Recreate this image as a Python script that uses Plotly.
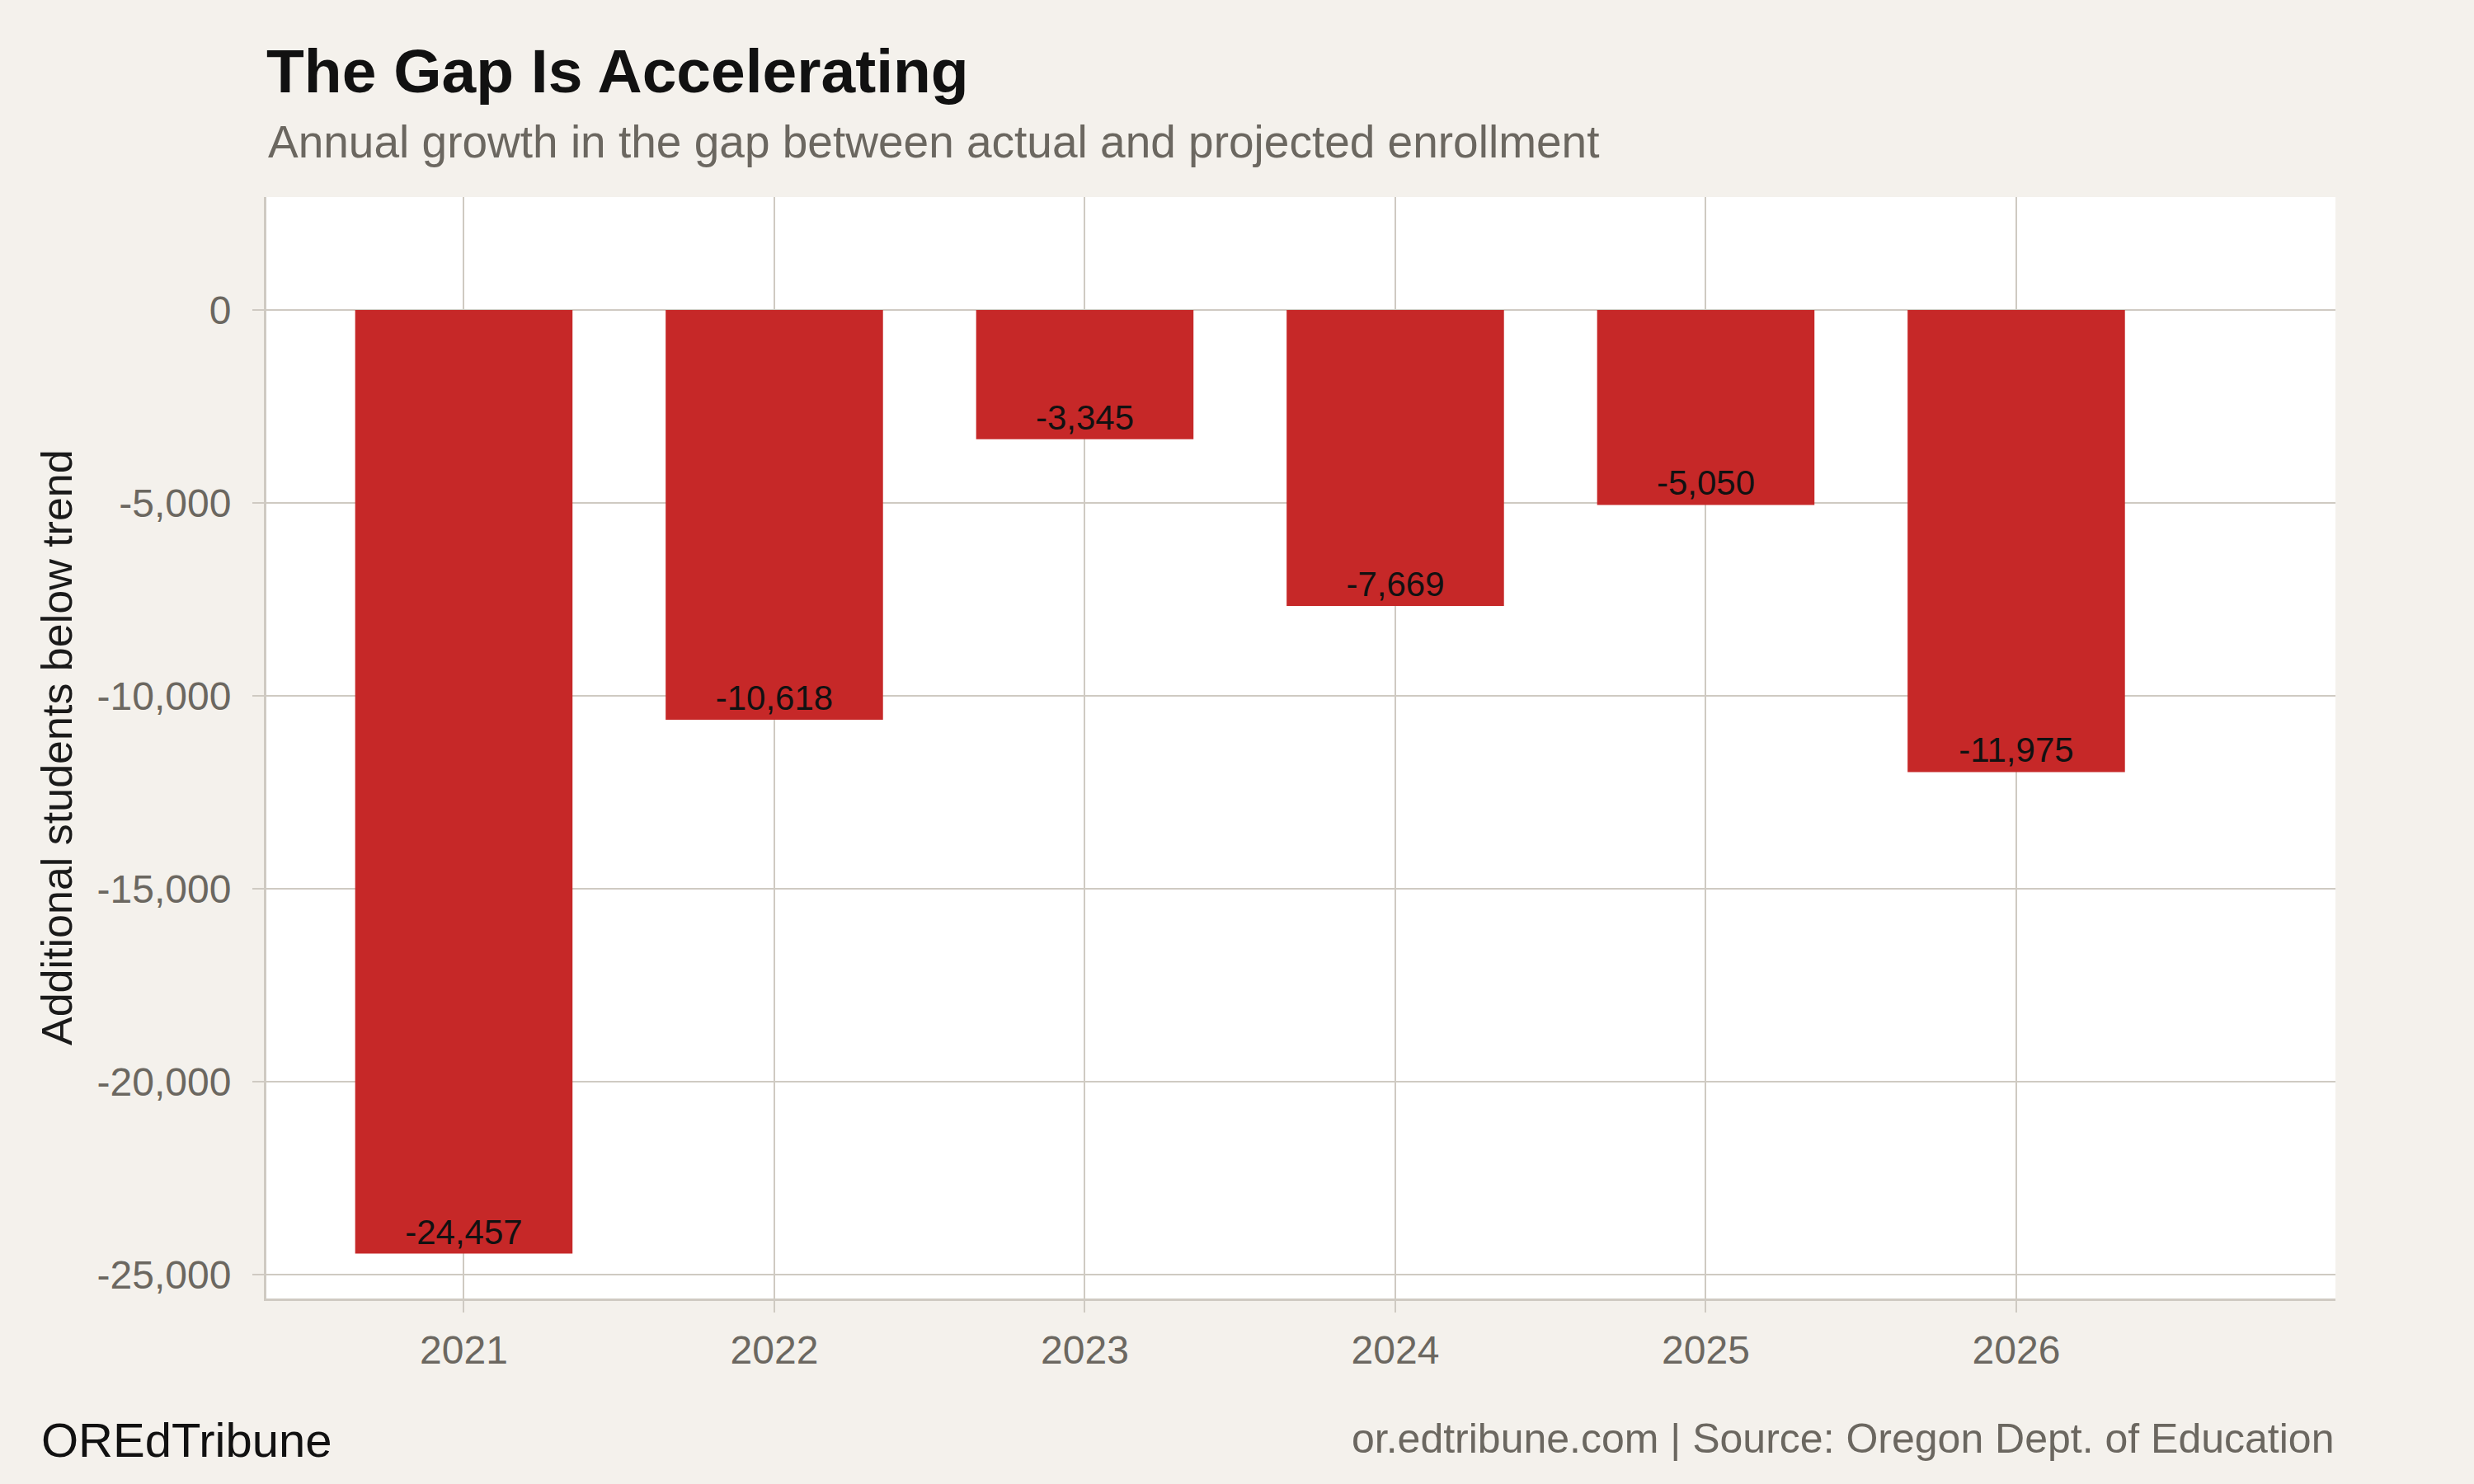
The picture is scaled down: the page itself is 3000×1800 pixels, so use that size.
import plotly.graph_objects as go

# data
years = ["2021", "2022", "2023", "2024", "2025", "2026"]
gap_growth = [-24457, -10618, -3345, -7669, -5050, -11975]
y_tick_vals = [0, -5000, -10000, -15000, -20000, -25000]
y_tick_text = ["0", "-5,000", "-10,000", "-15,000", "-20,000", "-25,000"]

BG = "#F4F1EC"
GRID = "#CFCAC2"
RED = "#C62828"
GREY_TEXT = "#6B6760"
FONT = "Liberation Sans, Arial, Helvetica, sans-serif"

labels = [f"{v:,}" for v in gap_growth]

fig = go.Figure()
fig.add_trace(go.Bar(
    x=years,
    y=gap_growth,
    width=0.7,
    marker=dict(color=RED, line=dict(width=0)),
    text=labels,
    textposition="inside",
    insidetextanchor="end",
    textangle=0,
    textfont=dict(family=FONT, size=42, color="#111111"),
    cliponaxis=False,
    showlegend=False,
))

fig.update_layout(
    width=3000,
    height=1800,
    paper_bgcolor=BG,
    plot_bgcolor="white",
    font=dict(family=FONT, color=GREY_TEXT),
    margin=dict(l=323, r=168, t=239, b=225),
    title=dict(
        text="<b>The Gap Is Accelerating</b>",
        x=323 / 3000, xanchor="left", xref="container",
        y=1 - 86 / 1800, yanchor="middle", yref="container",
        font=dict(family=FONT, size=75, color="#111111"),
    ),
)

fig.update_xaxes(
    type="category",
    range=[-0.636, 6.028],
    showgrid=True, gridcolor=GRID, gridwidth=2,
    showline=True, linecolor=GRID, linewidth=3,
    ticks="outside", ticklen=14, tickwidth=2, tickcolor=GRID,
    tickfont=dict(family=FONT, size=48, color=GREY_TEXT),
    ticklabelstandoff=4,
    zeroline=False,
)

fig.update_yaxes(
    range=[-25620, 2930],
    tickvals=y_tick_vals,
    ticktext=y_tick_text,
    showgrid=True, gridcolor=GRID, gridwidth=2,
    zeroline=True, zerolinecolor=GRID, zerolinewidth=2,
    showline=True, linecolor=GRID, linewidth=3,
    ticks="outside", ticklen=14, tickwidth=2, tickcolor=GRID,
    tickfont=dict(family=FONT, size=48, color=GREY_TEXT),
    ticklabelstandoff=16,
)

# subtitle, y axis title and footer
fig.add_annotation(
    text="Annual growth in the gap between actual and projected enrollment",
    xref="paper", yref="paper", x=0, y=1 + (239 - 172) / 1336,
    xanchor="left", yanchor="middle", showarrow=False,
    font=dict(family=FONT, size=55, color=GREY_TEXT),
)
fig.add_annotation(
    text="Additional students below trend",
    xref="paper", yref="paper", x=(69 - 323) / 2509, y=0.5,
    xanchor="center", yanchor="middle", textangle=-90, showarrow=False,
    font=dict(family=FONT, size=52, color="#1A1A1A"),
)
fig.add_annotation(
    text="OREdTribune",
    xref="paper", yref="paper", x=(48 - 323) / 2509, y=-(1746 - 1575) / 1336,
    xanchor="left", yanchor="middle", showarrow=False,
    font=dict(family=FONT, size=58, color="#111111"),
)
fig.add_annotation(
    text="or.edtribune.com | Source: Oregon Dept. of Education",
    xref="paper", yref="paper", x=1, y=-(1745 - 1575) / 1336,
    xanchor="right", yanchor="middle", showarrow=False,
    font=dict(family=FONT, size=50, color=GREY_TEXT),
)

# drop the default page margin so the figure sits at the window corner
fig.write_html(
    "out.html",
    config={"displayModeBar": False},
    post_script="document.body.style.margin = '0';",
)
